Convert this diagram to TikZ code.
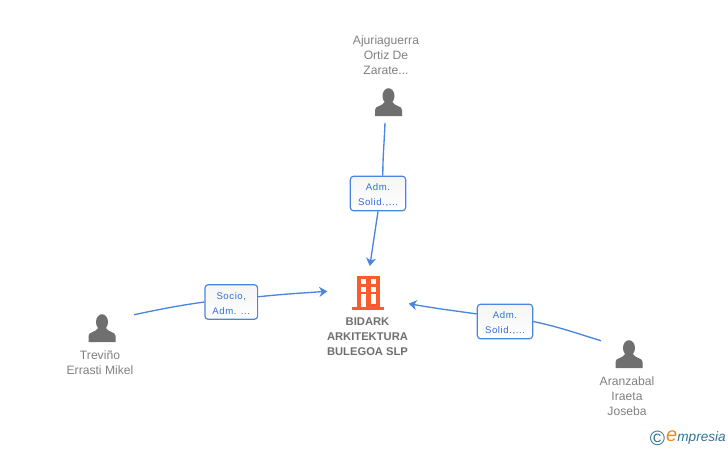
\documentclass[tikz,border=0pt]{standalone}
\usepackage{fontspec}
\setmainfont{Liberation Sans}
\newfontfamily\boxfont[LetterSpace=6]{Liberation Sans}
\newfontfamily\logofont{Liberation Sans}
\usepackage{xcolor}
\usetikzlibrary{positioning, arrows.meta, calc, shapes.geometric}
\definecolor{linkblue}{HTML}{4A86E0}
\definecolor{tagblue}{HTML}{2F6FDD}
\definecolor{iconblack}{HTML}{6F6F6F}
\definecolor{namegray}{HTML}{808080}
\definecolor{towerred}{HTML}{FF5A2C}
\definecolor{logoteal}{HTML}{2F7390}
\definecolor{logoorange}{HTML}{F08A1D}
\newcommand{\tagtop}{\rule{0pt}{7.6pt}}

\begin{document}
\begin{tikzpicture}[
x=0.75pt, y=-0.75pt,
    person/.style = {minimum width=42pt, minimum height=30pt, inner sep=0pt, outer sep=0pt,
        path picture={
            \fill[iconblack, shift={(path picture bounding box.center)}]
                (0,-7) ellipse [x radius=6, y radius=7.8];
            \fill[iconblack, shift={(path picture bounding box.center)}]
                (-13.5,13) -- (-13.5,7) .. controls (-13.5,2.5) and (-6,3.5) .. (-4,-1)
                -- (4,-1) .. controls (6,3.5) and (13.5,2.5) .. (13.5,7) -- (13.5,13) -- cycle;
        }},
    persontxt/.style = {text=namegray, font=\fontsize{9.1}{11.25}\selectfont, align=center, inner sep=0pt},
    company/.style = {persontxt, font=\fontsize{8.4}{11.25}\selectfont\bfseries, text=iconblack},
    tag/.style = {rectangle, rounded corners=2.5pt, draw=linkblue, line width=0.9pt,
        top color=gray!8, bottom color=white, text=tagblue, align=center,
        inner sep=0pt, minimum height=26pt,
        font=\fontsize{7.2}{11.25}\boxfont},
    tower/.style = {minimum width=61pt, minimum height=39pt, inner sep=0pt, outer sep=0pt,
        path picture={
            \begin{scope}[shift={(path picture bounding box.center)}, xshift=1.5pt]
                \fill[towerred] (-11,-16) rectangle (12,17);
                \fill[towerred] (-15.7,14.7) rectangle (15.7,17.5);
                \foreach \ypos in {-13,-5.3,2} {
                    \fill[white] (-7.3,\ypos) rectangle ++(5,5);
                    \fill[white] (2.7,\ypos) rectangle ++(5,5);
                }
                \fill[white] (-7.3,7.3) rectangle (-2.3,15);
                \fill[white] (2.7,7.3) rectangle (7.7,12.3);
            \end{scope}
        }},
    link/.style = {draw=linkblue, line width=1pt},
    arrowlink/.style = {link, -{Stealth[length=6pt, width=7.5pt, inset=1.8pt]}},
]
\useasboundingbox (0,0) rectangle (728,450);

\node[tower] (Bld) at (368,292) {};
\node[company] (BldName) at (367.5,337) {BIDARK\\ARKITEKTURA\\BULEGOA SLP};

\node[person] (Aju) at (388.5,103) {};
\node[persontxt] (AjuName) at (386,55.5) {Ajuriaguerra\\Ortiz De\\Zarate...};

\node[person, minimum width=48pt] (Tre) at (102,329) {};
\node[persontxt] (TreName) at (100,362.5) {Treviño\\Errasti Mikel};

\node[person] (Ara) at (629,355) {};
\node[persontxt] (AraName) at (627,396.5) {Aranzabal\\Iraeta\\Joseba};

\node[tag, minimum width=41.5pt] (Lab1) at (378,193.5) {\tagtop Adm.\\Solid.,...};
\node[tag, minimum width=39.5pt] (Lab2) at (231.3,302) {\tagtop Socio,\\Adm. ...};
\node[tag, minimum width=41.5pt] (Lab3) at (505,321.5) {\tagtop Adm.\\Solid.,...};

\draw[link] (Aju.260) to[out=268, in=90] (Lab1.75);
\draw[arrowlink] (Lab1.south) -- (Bld.86);

\draw[link] (Tre.24) to[out=12, in=188] (Lab2.west);
\draw[arrowlink] (Lab2.11) to[out=6, in=184] (Bld.179);

\draw[link] (Ara.153.4) to[out=163, in=-12] (Lab3.east);
\draw[arrowlink] (Lab3.165) to[out=172, in=-10] (Bld.-16.4);

\node[inner sep=0pt, text=logoteal, font=\fontsize{15.5}{16}\selectfont] (LogoC) at (657.5,438) {©};
\node[inner sep=0pt, anchor=east, font=\fontsize{10.2}{12}\logofont\itshape, text=logoteal] (LogoT) at (726,438)
    {\textcolor{logoorange}{\fontsize{15}{12}\selectfont e}mpresia};
\end{tikzpicture}
\end{document}
